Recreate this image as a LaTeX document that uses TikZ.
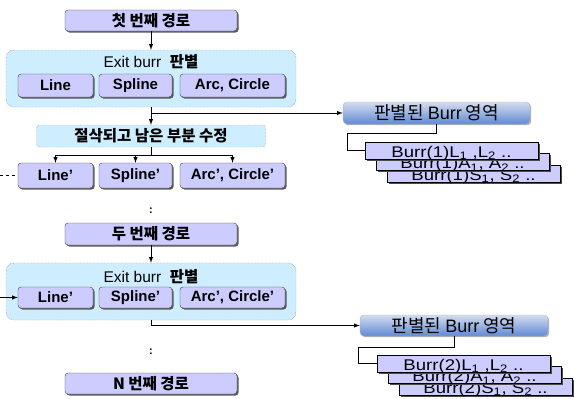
\documentclass[tikz,border=0pt]{standalone}
\usepackage{fontspec}
\setmainfont{Liberation Sans}
\newfontfamily\kr{Noto Sans CJK KR}
\usetikzlibrary{shadows}
\definecolor{lav}{RGB}{204,204,255}
\definecolor{sky}{RGB}{206,238,255}
\definecolor{areatop}{RGB}{212,220,240}
\definecolor{areabot}{RGB}{96,138,212}
\newcommand{\fsz}[1]{\fontsize{#1}{#1}\selectfont}
\newcommand{\burrtxt}[4]{\scalebox{1.2}[1]{Burr(#1)#2\textsubscript{1}#3#2\textsubscript{2} #4}}
\tikzset{
  pathbox/.style={draw=black!75, fill=lav, rounded corners=3pt, minimum width=172, minimum height=21,
    inner sep=0pt, font=\kr\bfseries\fsz{15.5},
    drop shadow={shadow xshift=1.5pt, shadow yshift=-1.5pt, fill=black!65, opacity=1}},
  itembox/.style={pathbox, minimum width=#1, font=\bfseries\fsz{15}},
  groupbox/.style={draw=gray!80!blue, densely dotted, fill=sky, rounded corners=8pt, inner sep=0pt},
  areabox/.style={draw=gray!60, rounded corners=4pt, top color=areatop, bottom color=areabot,
    minimum width=187, minimum height=22, inner sep=0pt, font=\kr\fsz{18},
    drop shadow={shadow xshift=1.2pt, shadow yshift=-1.2pt, fill=black!30, opacity=1}},
  burrbox/.style={draw=black, fill=lav, minimum width=173, minimum height=17, inner sep=0pt,
    text height=13.5pt, text depth=0pt, font=\fsz{15.5},
    drop shadow={shadow xshift=1.5pt, shadow yshift=-1.5pt, fill=black!70, opacity=1}},
  link/.style={line width=1pt, -latex},
  wire/.style={line width=0.8pt},
}
\begin{document}
\begin{tikzpicture}[x=1pt,y=-1pt]
\useasboundingbox (0,0) rectangle (574,399);
% ---- FIRST PATH ----
\node[pathbox] (path1) at (151,20.5) {첫 번째 경로};
\node[groupbox, minimum width=290, minimum height=57] (grp1) at (151,78.5) {};
\node[font=\fsz{15.5}] (exit1) at (151,62) {Exit burr~~{\kr\bfseries 판별}};
\foreach \n/\x/\w/\t in {line/55.5/75/Line, spline/135.5/73/Spline, arc/232.5/105/{Arc, Circle}}
  \node[itembox=\w, minimum height=23] (\n1) at (\x,85.5) {\t};
\node[groupbox, rounded corners=3pt, minimum width=229, minimum height=22, font=\kr\bfseries\fsz{15.5}] (fix1) at (151,136) {절삭되고 남은 부분 수정};
\foreach \n/\x/\w/\t in {line/55.5/75/Line’, spline/135.5/73/Spline’, arc/232.5/105/{Arc’, Circle’}}
  \node[itembox=\w, minimum height=25] (\n1c) at (\x,175.5) {\t};
\coordinate (split1) at (151,155);
\coordinate (in1) at (0,175.5);
\draw[link] (path1) -- (grp1);
\draw[link] (grp1) -- (fix1);
\draw[wire] (fix1) -- (split1);
\foreach \n in {line,spline,arc}
  \draw[link] (split1) -| (\n1c.north);
\draw[wire, dashed, line width=1pt] (in1) -- (line1c);
% ---- AREA 1 ----
\node[areabox] (area1) at (436.5,113) {판별된 {\rmfamily Burr} 영역};
\draw[link] (grp1.south) |- (area1.west);
\node[burrbox] (burr1S) at (473.5,173.5) {\burrtxt{1}{S}{, }{..}};
\node[burrbox] (burr1A) at (462.5,162) {\burrtxt{1}{A}{, }{..}};
\node[burrbox] (burr1L) at (451.5,150.5) {\burrtxt{1}{L}{ ,}{..}};
\coordinate (k1) at (347,133);
\draw[wire] (area1.south) |- (k1) |- (burr1L.west);
\node[font=\bfseries\fsz{11}] (dots1) at (151,211) {:};
% ---- SECOND PATH ----
\node[pathbox, minimum height=22] (path2) at (151,234) {두 번째 경로};
\node[groupbox, minimum width=290, minimum height=57] (grp2) at (151,291.5) {};
\node[font=\fsz{15.5}] (exit2) at (151,277) {Exit burr~~{\kr\bfseries 판별}};
\foreach \n/\x/\w/\t in {line/55.5/75/Line’, spline/135.5/73/Spline’, arc/232.5/105/{Arc’, Circle’}}
  \node[itembox=\w, minimum height=21] (\n2) at (\x,297.5) {\t};
\coordinate (in2) at (0,297.5);
\draw[link] (path2) -- (grp2);
\draw[link] (in2) -- (line2);
% ---- AREA 2 ----
\node[areabox, minimum width=188, minimum height=21] (area2) at (454,325.5) {판별된 {\rmfamily Burr} 영역};
\draw[link] (grp2.south) |- (area2.west);
\node[burrbox] (burr2S) at (485.5,386.5) {\burrtxt{2}{S}{, }{..}};
\node[burrbox] (burr2A) at (474.5,375) {\burrtxt{2}{A}{, }{..}};
\node[burrbox] (burr2L) at (463.5,363.5) {\burrtxt{2}{L}{ ,}{..}};
\coordinate (k2) at (358,347);
\draw[wire] (area2.south) |- (k2) |- (burr2L.west);
\node[font=\bfseries\fsz{11}] (dots2) at (151,352) {:};
% ---- N-TH PATH ----
\node[pathbox] (pathN) at (151,383.5) {N 번째 경로};
\end{tikzpicture}
\end{document}
